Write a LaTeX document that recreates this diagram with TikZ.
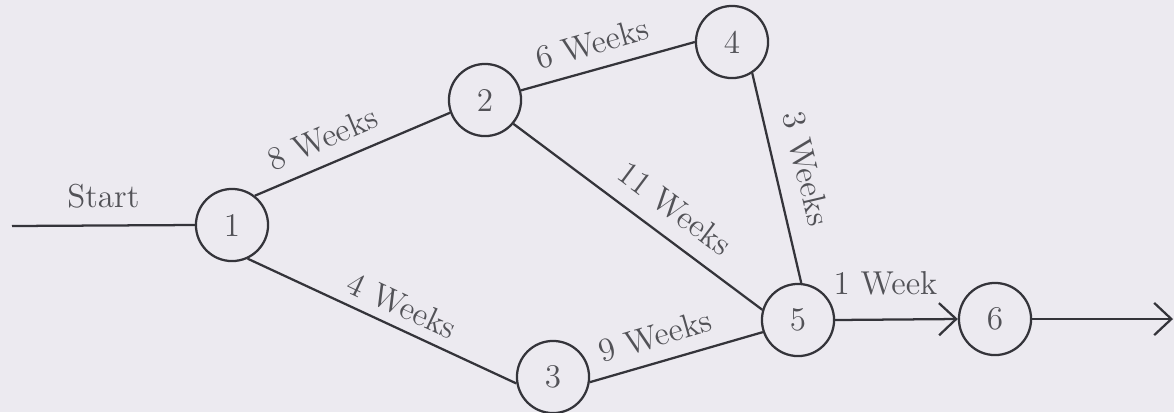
\documentclass[tikz,border=0pt]{standalone}
\usepackage{tikz}
\usetikzlibrary{arrows.meta}
\definecolor{paper}{RGB}{236,234,240}
\definecolor{ink}{RGB}{52,52,58}

\begin{document}
\begin{tikzpicture}[x=0.014cm, y=-0.014cm,
  font=\fontsize{13.2}{16}\selectfont, text=ink!85,
  ev/.style={circle, draw=ink, line width=0.9pt, minimum size=1.01cm, inner sep=0pt},
  act/.style={draw=ink, line width=0.9pt},
  arr/.style={act, -{Straight Barb[length=2.4mm, width=4.5mm]}},
  lbl/.style={sloped, above=#1},
  lbl/.default=2pt]
 \fill[paper] (0,0) rectangle (1174,412);
 \useasboundingbox (0,0) rectangle (1174,412);
 % events
 \node[ev] (n1) at (232,225) {1};
 \node[ev] (n2) at (485,100) {2};
 \node[ev] (n3) at (553,377) {3};
 \node[ev] (n4) at (732,42)  {4};
 \node[ev] (n5) at (798,320) {5};
 \node[ev] (n6) at (995,319) {6};
 \coordinate (start) at (12,226);
 \coordinate (finish) at (1173,319);
 % activities
 \draw[act] (start) -- (n1.west) node[midway, above=3pt] {Start};
 \draw[act] (n1.52) -- (n2.200) node[lbl, pos=0.4] {8 Weeks};
 \draw[act] (n1.-65) -- (n3.190) node[lbl=0.5pt, pos=0.54] {4 Weeks};
 \draw[act] (n2.15) -- (n4.180) node[lbl, pos=0.45] {6 Weeks};
 \draw[act] (n2.-40) -- (n5.164) node[lbl=3pt, pos=0.58] {11 Weeks};
 \draw[act] (n4.-57) -- (n5.85) node[lbl=4pt, pos=0.49] {3 Weeks};
 \draw[act] (n3.-8) -- (n5.199) node[lbl, pos=0.42] {9 Weeks};
 \draw[arr] (n5.east) -- (n6.west) node[pos=0.41, above=6pt] {1 Week};
 \draw[arr] (n6.east) -- (finish);
\end{tikzpicture}
\end{document}
